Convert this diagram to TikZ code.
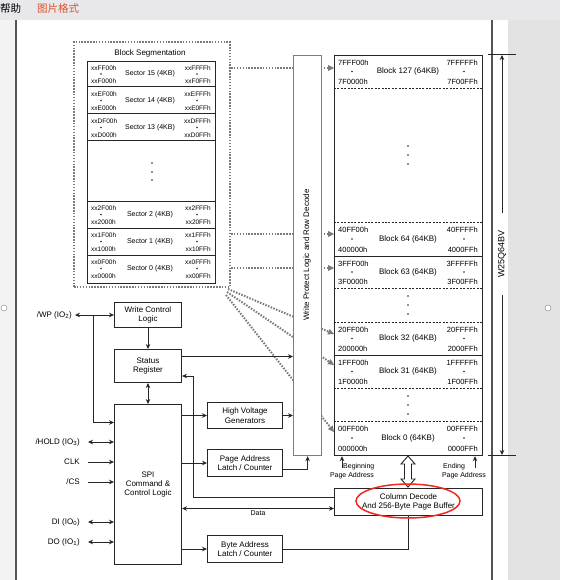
\documentclass[tikz,border=0pt]{standalone}
\usepackage{fontspec}
\setmainfont{Liberation Sans}
\newfontfamily\cjk{Noto Sans CJK SC}
\usetikzlibrary{positioning,arrows.meta}

\definecolor{barcol}{HTML}{E8E8EA}
\definecolor{sidecol}{HTML}{E3E3E3}
\definecolor{leftcol}{HTML}{F3F3F3}
\definecolor{framecol}{HTML}{555555}
\definecolor{menucol}{HTML}{D9532C}
\definecolor{dotcol}{HTML}{7A7A7A}
\definecolor{inkcol}{HTML}{262626}
\definecolor{wpcol}{HTML}{7E7E7E}
\definecolor{markcol}{HTML}{F0281E}

\newcommand{\fsz}[1]{\fontsize{#1}{#1}\selectfont\baselineskip=1.18\baselineskip}

\begin{document}
\begin{tikzpicture}[x=1pt,y=-1pt,
  blk/.style={draw=inkcol,line width=1pt,fill=white,align=center,inner sep=0pt,font=\fsz{8}},
  pin/.style={anchor=east,inner ysep=0pt,inner xsep=8pt,font=\fsz{8}},
  txt/.style={inner sep=0pt,font=\fsz{#1}},
  txt/.default=8,
  sig/.style={draw=inkcol,line width=0.8pt,-{Stealth[length=5pt,width=4.5pt]}},
  bisig/.style={draw=inkcol,line width=0.8pt,{Stealth[length=5pt,width=4.5pt]}-{Stealth[length=5pt,width=4.5pt]}},
  dotsig/.style={draw=dotcol,line width=2pt,dash pattern=on 1.5pt off 1.4pt,-{Triangle[length=6pt,width=6pt,line width=0pt,fill=dotcol]}},
  rowdash/.style={draw=inkcol,line width=0.6pt,dash pattern=on 2pt off 1.4pt},
]
% window around the page
\useasboundingbox (0,0) rectangle (560,580);
\fill[white] (0,0) rectangle (560,580);
\fill[leftcol] (0,20) rectangle (16,580);
\fill[sidecol] (508,20) rectangle (560,580);
\fill[barcol] (0,0) rectangle (560,20);
\draw[framecol,line width=1.5pt] (16,20) -- (16,580) (492,20) -- (492,580);
\node[inner sep=0pt,anchor=west,font=\cjk\fsz{10.5}] (menuhelp) at (0,9) {帮助};
\node[inner sep=0pt,anchor=west,font=\cjk\fsz{10.5},text=menucol] (menufmt) at (37,9) {图片格式};
\draw[gray,fill=white] (4,308) circle (3pt) (548,308) circle (3pt);

% block segmentation
\node[draw=dotcol,line width=2pt,dash pattern=on 1.5pt off 1.4pt,minimum width=156,minimum height=245,anchor=north west] (seg) at (73,41) {};
\node[txt=8] (segtitle) at (150,53) {Block Segmentation};
\node[draw=inkcol,line width=1pt,minimum width=128,minimum height=222,anchor=north west] (sectab) at (87,61) {};
\foreach \y in {87,114,141,201,228,255}
  \draw[inkcol,line width=1pt] (sectab.west |- 0,\y) -- (sectab.east |- 0,\y);
\foreach \n/\h/\yt/\yb in {15/F/61/87,14/E/87/114,13/D/114/141,2/2/201/228,1/1/228/255,0/0/255/282}{
  \node[txt=6.5,anchor=west] (s\n-lt) at (91,\yt+7) {xx\h F00h};
  \node[txt=6.5,anchor=west] (s\n-lb) at (91,\yb-6) {xx\h000h};
  \node[txt=6.5,anchor=east] (s\n-rt) at (211,\yt+7) {xx\h FFFh};
  \node[txt=6.5,anchor=east] (s\n-rb) at (211,\yb-6) {xx\h0FFh};
  \node[txt=7] (s\n) at (150,{(\yt+\yb)/2}) {Sector \n\ (4KB)};
  \fill[inkcol] (101,{(\yt+\yb)/2}) circle (0.9pt) (197,{(\yt+\yb)/2}) circle (0.9pt);
}
\foreach \y in {163,172,180} \fill[inkcol] (152,\y) circle (0.9pt);

% memory array
\node[draw=inkcol,line width=1.2pt,minimum width=148,minimum height=400,anchor=north west] (mem) at (334,55) {};
\foreach \y in {88,222,288,322,388,421}
  \draw[rowdash] (mem.west |- 0,\y) -- (mem.east |- 0,\y);
\foreach \y in {256,355}
  \draw[inkcol,line width=1pt] (mem.west |- 0,\y) -- (mem.east |- 0,\y);
\foreach \n/\p/\yt/\yb in {127/7F/55/88,64/40/222/256,63/3F/256/288,32/20/322/355,31/1F/355/388,0/00/421/455}{
  \node[txt=7.5,anchor=west] (b\n-lt) at (338,\yt+8) {\p FF00h};
  \node[txt=7.5,anchor=west] (b\n-lb) at (338,\yb-6) {\p 0000h};
  \node[txt=7.5,anchor=east] (b\n-rt) at (478,\yt+8) {\p FFFFh};
  \node[txt=7.5,anchor=east] (b\n-rb) at (478,\yb-6) {\p 00FFh};
  \node[txt=8] (b\n) at (408,{(\yt+\yb)/2}) {Block \n\ (64KB)};
  \fill[inkcol] (352,{(\yt+\yb)/2}) circle (0.9pt) (464,{(\yt+\yb)/2}) circle (0.9pt);
}
\foreach \y in {146,155,164,296,305,314,396,405,414} \fill[inkcol] (408,\y) circle (0.9pt);

% dotted links, hidden behind the decoder
\foreach \y in {68,234,268}
  \draw[dotsig] (seg.east |- 0,\y) -- (mem.west |- 0,\y);
\coordinate (d1) at (228,289);
\coordinate (d2) at (227,292);
\coordinate (d3) at (226,295);
\draw[dotsig] (d1) -- (mem.west |- 0,334);
\draw[dotsig] (d2) -- (mem.west |- 0,365);
\draw[dotsig] (d3) -- (mem.west |- 0,432);
\node[draw=wpcol,line width=1.2pt,fill=white,minimum width=28,minimum height=400,anchor=north west] (wprot) at (293,55) {};
\node[txt=8,rotate=90] (wptext) at (307,255) {Write Protect Logic and Row Decode};

% chip size
\coordinate (dimtop) at (502,55);
\coordinate (dimbot) at (502,455);
\draw[bisig] (dimtop) -- (dimbot);
\draw[inkcol,line width=1pt] (488,55) -- (516,55) (488,455) -- (516,455);
\node[txt=9,rotate=90,fill=white,inner xsep=17pt,inner ysep=2pt] (chip) at (502,254) {W25Q64BV};

% page address marks
\coordinate (begarr) at (342,468);
\coordinate (endarr) at (475,468);
\draw[sig] (begarr) -- (begarr |- mem.south);
\draw[sig] (endarr) -- (endarr |- mem.south);
\node[txt=7,anchor=west] (beg1) at (343,467) {Beginning};
\node[txt=7] (beg2) at (352,476) {Page Address};
\node[txt=7,anchor=west] (end1) at (443,467) {Ending};
\node[txt=7] (end2) at (464,476) {Page Address};

% logic blocks
\node[blk,minimum width=67,minimum height=25,anchor=north west] (wcl) at (114,302) {Write Control\\Logic};
\node[blk,minimum width=67,minimum height=33,below=21pt of wcl] (sr) {Status\\Register};
\node[blk,minimum width=67,minimum height=160,below=21pt of sr] (spi) {SPI\\Command \&\\Control Logic};
\node[blk,minimum width=75,minimum height=26,anchor=north west] (hv) at (207,402) {High Voltage\\Generators};
\node[blk,minimum width=75,minimum height=27,below=20pt of hv] (pa) {Page Address\\Latch / Counter};
\node[blk,minimum width=75,minimum height=27,anchor=north west] (ba) at (207,535) {Byte Address\\Latch / Counter};
\node[blk,minimum width=148,minimum height=27,anchor=north west] (col) at (334,488) {Column Decode\\And 256-Byte Page Buffer};

% hollow bus arrow
\draw[inkcol,line width=0.9pt,fill=white] (408,456) -- (415,464) -- (411.5,464) -- (411.5,479) -- (415,479) -- (408,487) -- (401,479) -- (404.5,479) -- (404.5,464) -- (401,464) -- cycle;

% pins
\node[pin,inner xsep=3pt] (wp) at (75,315) {/WP (IO\textsubscript{2})};
\node[pin] (hold) at (88,442) {/HOLD (IO\textsubscript{3})};
\node[pin] (clk) at (88,462) {CLK};
\node[pin] (cs) at (88,482) {/CS};
\node[pin] (di) at (88,522) {DI (IO\textsubscript{0})};
\node[pin] (do) at (88,542) {DO (IO\textsubscript{1})};
\draw[bisig] (wp) -- (wcl);
\coordinate (wpj) at (93,315);
\draw[sig] (wpj) |- ([yshift=62pt]spi.west);
\draw[bisig] (hold) -- (hold -| spi.west);
\draw[sig] (clk) -- (clk -| spi.west);
\draw[sig] (cs) -- (cs -| spi.west);
\draw[bisig] (di) -- (di -| spi.west);
\draw[bisig] (do) -- (do -| spi.west);

% connections
\draw[sig] (wcl) -- (sr);
\draw[bisig] (sr) -- (spi);
\coordinate (srout) at ([yshift=9.5pt]sr.east);
\draw[sig] (srout) -- (srout -| wprot.west);
\draw[sig] (spi.east |- hv) -- (hv);
\draw[sig] (hv) -- (hv -| wprot.west);
\draw[sig] (spi.east |- pa) -- (pa);
\coordinate (paout) at ([yshift=-6.5pt]pa.east);
\draw[sig] (paout) -| (wprot.south);
\draw[sig] (spi.east |- ba) -- (ba);
\draw[inkcol,line width=0.8pt] (ba) -| (col.south);
\draw[sig] ([yshift=5pt]col.west) -| ([xshift=11pt,yshift=-10pt]sr.east) -- ([yshift=-10pt]sr.east);
\coordinate (dcol) at ([yshift=-6.5pt]col.west);
\draw[bisig] (dcol) -- (dcol -| spi.east) node[midway,below=2pt,txt=7] (data) {Data};

% hand-drawn mark
\draw[markcol,line width=1.5pt] (408,501) ellipse (52pt and 17pt);
\end{tikzpicture}
\end{document}
